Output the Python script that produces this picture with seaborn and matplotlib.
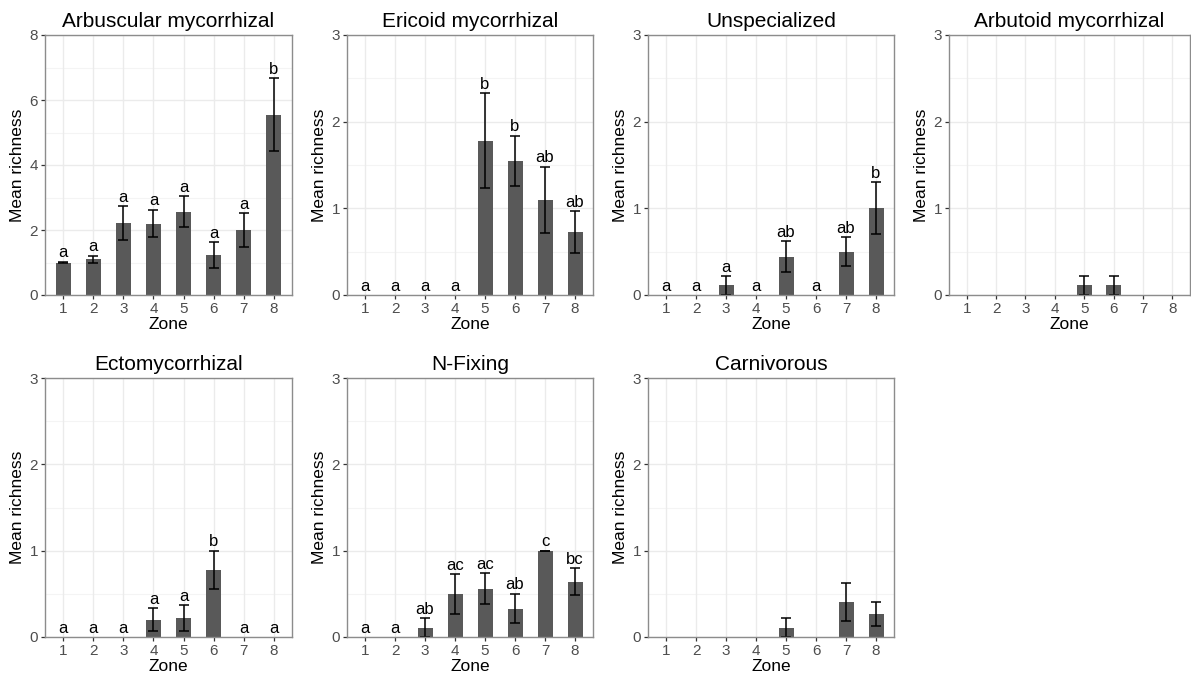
import numpy as np
import pandas as pd
import matplotlib
matplotlib.use("Agg")
import matplotlib.pyplot as plt
import seaborn as sns

# ---- data -------------------------------------------------------------
zones = ["1", "2", "3", "4", "5", "6", "7", "8"]

arbuscular_mean = [1.00, 1.10, 2.22, 2.20, 2.56, 1.22, 2.00, 5.55]
arbuscular_se = [0.02, 0.11, 0.52, 0.42, 0.48, 0.40, 0.52, 1.12]
arbuscular_letters = ["a", "a", "a", "a", "a", "a", "a", "b"]

ericoid_mean = [0, 0, 0, 0, 1.78, 1.55, 1.10, 0.73]
ericoid_se = [0, 0, 0, 0, 0.55, 0.29, 0.38, 0.24]
ericoid_letters = ["a", "a", "a", "a", "b", "b", "ab", "ab"]

unspecialized_mean = [0, 0, 0.11, 0, 0.44, 0, 0.50, 1.00]
unspecialized_se = [0, 0, 0.11, 0, 0.18, 0, 0.17, 0.30]
unspecialized_letters = ["a", "a", "a", "a", "ab", "a", "ab", "b"]

arbutoid_mean = [0, 0, 0, 0, 0.11, 0.11, 0, 0]
arbutoid_se = [0, 0, 0, 0, 0.11, 0.11, 0, 0]
arbutoid_letters = None

ecto_mean = [0, 0, 0, 0.20, 0.22, 0.78, 0, 0]
ecto_se = [0, 0, 0, 0.135, 0.145, 0.22, 0, 0]
ecto_letters = ["a", "a", "a", "a", "a", "b", "a", "a"]

nfix_mean = [0, 0, 0.11, 0.50, 0.56, 0.33, 1.00, 0.64]
nfix_se = [0, 0, 0.11, 0.23, 0.18, 0.17, 0.0, 0.155]
nfix_letters = ["a", "a", "ab", "ac", "ac", "ab", "c", "bc"]

carnivorous_mean = [0, 0, 0, 0, 0.11, 0, 0.40, 0.27]
carnivorous_se = [0, 0, 0, 0, 0.11, 0, 0.22, 0.14]
carnivorous_letters = None

panels = [
    ("Arbuscular mycorrhizal", arbuscular_mean, arbuscular_se, arbuscular_letters, 8),
    ("Ericoid mycorrhizal", ericoid_mean, ericoid_se, ericoid_letters, 3),
    ("Unspecialized", unspecialized_mean, unspecialized_se, unspecialized_letters, 3),
    ("Arbutoid mycorrhizal", arbutoid_mean, arbutoid_se, arbutoid_letters, 3),
    ("Ectomycorrhizal", ecto_mean, ecto_se, ecto_letters, 3),
    ("N-Fixing", nfix_mean, nfix_se, nfix_letters, 3),
    ("Carnivorous", carnivorous_mean, carnivorous_se, carnivorous_letters, 3),
]

# ---- style ------------------------------------------------------------
sns.set_theme(style="white")
plt.rcParams["font.family"] = ["Liberation Sans", "DejaVu Sans"]

W, H = 1191, 679
fig = plt.figure(figsize=(W / 100, H / 100), dpi=100)

# panel boxes in pixels: left, top, right, bottom
col_x = [(45, 292), (347, 593), (648, 894), (949, 1190)]
row_y = [(35, 295), (378, 637)]

bar_color = "#595959"
grid_major = "#EBEBEB"
grid_minor = "#F4F4F4"
border = "#8C8C8C"

for i, (title, mean, se, letters, ymax) in enumerate(panels):
    r, c = divmod(i, 4)
    x0, x1 = col_x[c]
    y0, y1 = row_y[r]
    ax = fig.add_axes([x0 / W, 1 - y1 / H, (x1 - x0) / W, (y1 - y0) / H])

    df = pd.DataFrame({"Zone": zones, "Mean": mean, "SE": se})
    sns.barplot(data=df, x="Zone", y="Mean", color=bar_color, width=0.5,
                saturation=1, errorbar=None, ax=ax, zorder=3)
    for p in ax.patches:
        p.set_edgecolor("none")

    pos = np.arange(len(zones))
    m = np.array(mean)
    s = np.array(se)
    show = m > 0
    ax.errorbar(pos[show], m[show], yerr=s[show], fmt="none", ecolor="black",
                elinewidth=1.1, capsize=3.3, capthick=1.1, zorder=4)

    if letters is not None:
        for xp, mv, sv, lab in zip(pos, m, s, letters):
            ax.annotate(lab, (xp, mv + sv), xytext=(0, 1.0),
                        textcoords="offset points", ha="center", va="bottom",
                        fontsize=12, color="black", zorder=5)

    ax.set_xlim(-0.6, len(zones) - 0.4)
    ax.set_ylim(0, ymax)
    if ymax == 8:
        major = np.arange(0, 9, 2)
        minor = np.arange(1, 8, 2)
    else:
        major = np.arange(0, 4, 1)
        minor = np.arange(0.5, 3, 1)
    ax.set_yticks(major)
    ax.set_yticks(minor, minor=True)
    ax.set_yticklabels([str(int(v)) for v in major])

    for v in minor:
        ax.axhline(v, color=grid_minor, lw=0.8, zorder=0)
    for v in major:
        ax.axhline(v, color=grid_major, lw=1.0, zorder=0)
    for xp in pos:
        ax.axvline(xp, color=grid_major, lw=1.0, zorder=0)

    ax.tick_params(axis="both", which="major", direction="out", length=3,
                   width=0.9, color="#333333", labelsize=11,
                   labelcolor="#4D4D4D", pad=2, bottom=True, left=True)
    ax.tick_params(axis="y", which="minor", length=0)

    for sp in ax.spines.values():
        sp.set_color(border)
        sp.set_linewidth(1.0)
        sp.set_zorder(6)

    ax.set_xlabel("Zone", fontsize=12.5, color="black", labelpad=1)
    ax.set_ylabel("Mean richness", fontsize=12.5, color="black", labelpad=3)
    ax.set_title(title, fontsize=15, color="black", pad=6)

fig.savefig("out.png", dpi=100, facecolor="white")
